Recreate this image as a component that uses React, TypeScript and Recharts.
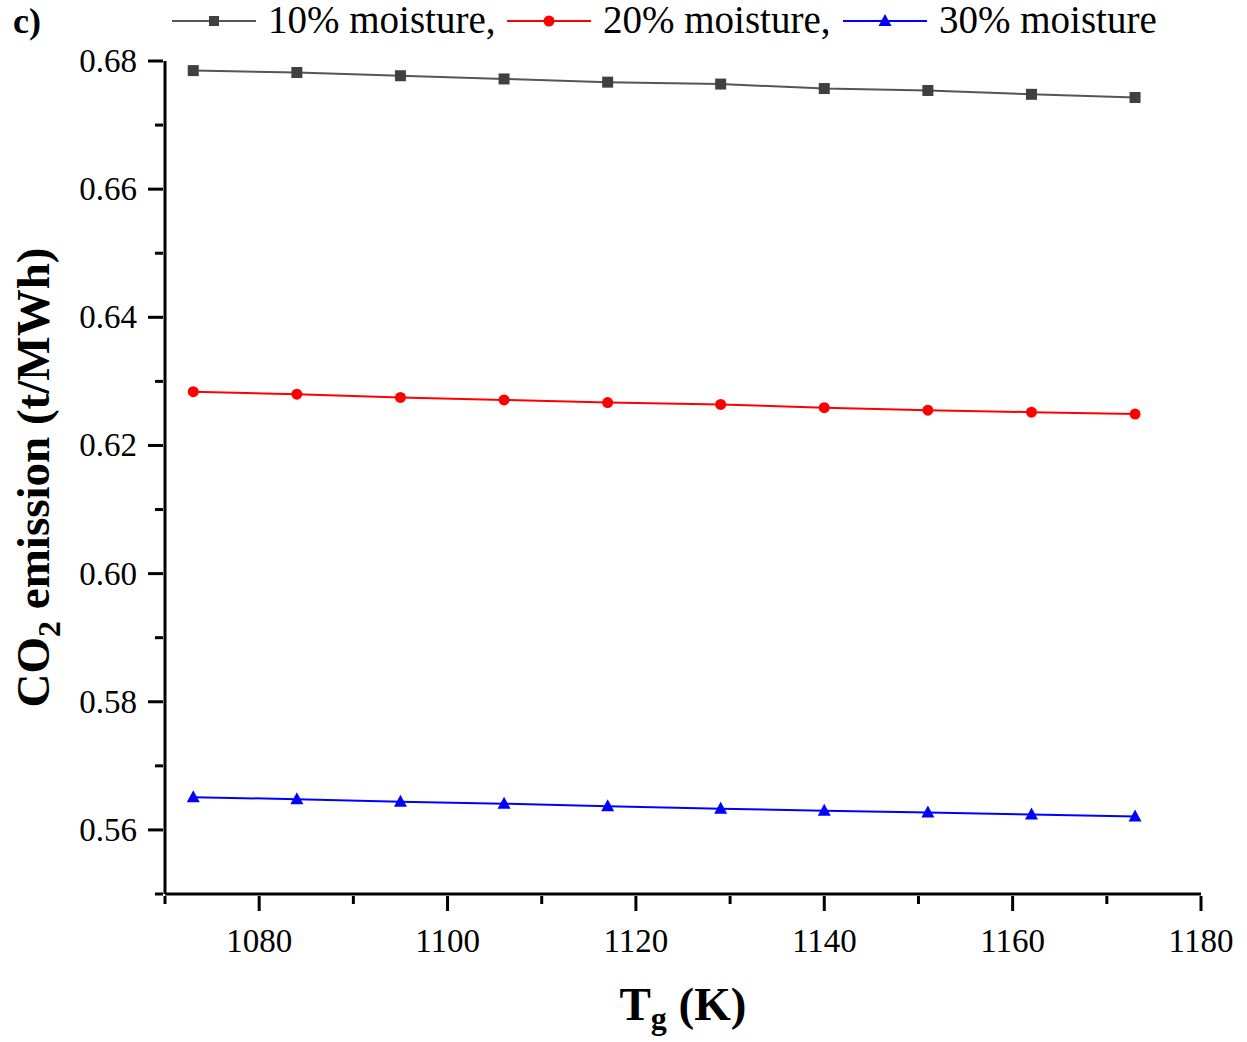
import React from "react";
import { LineChart, Line, XAxis, YAxis, Label } from "recharts";

const tgValues = [1073, 1084, 1095, 1106, 1117, 1129, 1140, 1151, 1162, 1173];
const moisture10 = [0.6785, 0.6782, 0.6777, 0.6772, 0.6767, 0.6764, 0.6757, 0.6754, 0.6748, 0.6743];
const moisture20 = [0.6284, 0.628, 0.6275, 0.6271, 0.6267, 0.6264, 0.6259, 0.6255, 0.6252, 0.6249];
const moisture30 = [0.5651, 0.5648, 0.5644, 0.5641, 0.5637, 0.5633, 0.563, 0.5627, 0.5624, 0.5621];
const xTicks = [1070, 1080, 1090, 1100, 1110, 1120, 1130, 1140, 1150, 1160, 1170, 1180];
const yTicks = [0.55, 0.56, 0.57, 0.58, 0.59, 0.6, 0.61, 0.62, 0.63, 0.64, 0.65, 0.66, 0.67, 0.68];
const seriesNames = ["10% moisture,", "20% moisture,", "30% moisture"];

const data = tgValues.map((tg, i) => ({
  tg,
  m10: moisture10[i],
  m20: moisture20[i],
  m30: moisture30[i],
}));

const FONT = "'Liberation Serif', 'Times New Roman', serif";
const GRAY = "#404040";
const RED = "#ff0000";
const BLUE = "#0000ff";

const XTick = (props: any) => {
  const { x, y, payload } = props;
  const v = payload.value;
  const major = v % 20 === 0;
  return (
    <g>
      <line x1={x} x2={x} y1={y} y2={y + (major ? 15 : 8)} stroke="#000" strokeWidth={3} />
      {major && (
        <text x={x} y={y + 56} textAnchor="middle" fontFamily={FONT} fontSize={33} fill="#000">
          {v}
        </text>
      )}
    </g>
  );
};

const YTick = (props: any) => {
  const { x, y, payload } = props;
  const v = payload.value;
  const major = Math.round(v * 100) % 2 === 0;
  return (
    <g>
      <line x1={x} x2={x - (major ? 15 : 8)} y1={y} y2={y} stroke="#000" strokeWidth={3} />
      {major && (
        <text x={x - 26} y={y + 11} textAnchor="end" fontFamily={FONT} fontSize={33} fill="#000">
          {v.toFixed(2)}
        </text>
      )}
    </g>
  );
};

const SquareDot = (props: any) => {
  const { cx, cy, index } = props;
  return <rect key={`s${index}`} x={cx - 5.5} y={cy - 5.5} width={11} height={11} fill={GRAY} />;
};
const CircleDot = (props: any) => {
  const { cx, cy, index } = props;
  return <circle key={`c${index}`} cx={cx} cy={cy} r={5.5} fill={RED} />;
};
const TriDot = (props: any) => {
  const { cx, cy, index } = props;
  return (
    <path key={`t${index}`} d={`M${cx},${cy - 7} L${cx + 6.5},${cy + 5} L${cx - 6.5},${cy + 5} Z`} fill={BLUE} />
  );
};

const XTitle = (props: any) => {
  const { viewBox } = props;
  const cx = viewBox.x + viewBox.width / 2;
  return (
    <text x={cx} y={1020} textAnchor="middle" fontFamily={FONT} fontSize={47} fontWeight="bold" fill="#000">
      T<tspan fontSize={32} dy={9}>g</tspan>
      <tspan dy={-9}> (K)</tspan>
    </text>
  );
};

const YTitle = (props: any) => {
  const { viewBox } = props;
  const cy = viewBox.y + viewBox.height / 2;
  const cx = 49;
  return (
    <text
      x={cx}
      y={cy}
      transform={`rotate(-90, ${cx}, ${cy})`}
      textAnchor="middle"
      fontFamily={FONT}
      fontSize={47}
      fontWeight="bold"
      fill="#000"
    >
      CO<tspan fontSize={32} dy={11}>2</tspan>
      <tspan dy={-11}> emission (t/MWh)</tspan>
    </text>
  );
};

const legendItems = [
  { name: seriesNames[0], color: GRAY, lineColor: "#555", marker: "square", x: 172 },
  { name: seriesNames[1], color: RED, lineColor: RED, marker: "circle", x: 507 },
  { name: seriesNames[2], color: BLUE, lineColor: BLUE, marker: "triangle", x: 843 },
];

const LegendOverlay = () => (
  <svg width={1247} height={60} style={{ position: "absolute", left: 0, top: 0, overflow: "visible" }}>
    <text x={13} y={33} fontFamily={FONT} fontSize={36} fontWeight="bold" fill="#000">
      c)
    </text>
    {legendItems.map((it) => {
      const mx = it.x + 42;
      const my = 21;
      return (
        <g key={it.name}>
          <line x1={it.x} x2={it.x + 84} y1={my} y2={my} stroke={it.lineColor} strokeWidth={2} />
          {it.marker === "square" && <rect x={mx - 5} y={my - 5} width={10} height={10} fill={it.color} />}
          {it.marker === "circle" && <circle cx={mx} cy={my} r={5.5} fill={it.color} />}
          {it.marker === "triangle" && (
            <path d={`M${mx},${my - 7} L${mx + 6.5},${my + 5} L${mx - 6.5},${my + 5} Z`} fill={it.color} />
          )}
          <text x={it.x + 96} y={my + 12} fontFamily={FONT} fontSize={39} fill="#000">
            {it.name}
          </text>
        </g>
      );
    })}
  </svg>
);

export default function App() {
  return (
    <div style={{ position: "absolute", left: 0, top: 0, width: 1247, height: 1042, background: "#fff" }}>
      <LineChart
        width={1247}
        height={1042}
        data={data}
        margin={{ top: 61, right: 46, bottom: 48, left: 0 }}
      >
        <XAxis
          type="number"
          dataKey="tg"
          domain={[1070, 1180]}
          ticks={xTicks}
          interval={0}
          allowDataOverflow
          height={100}
          tickSize={0}
          tickLine={false}
          axisLine={{ stroke: "#000", strokeWidth: 3 }}
          tick={<XTick />}
        >
          <Label content={<XTitle />} />
        </XAxis>
        <YAxis
          type="number"
          domain={[0.55, 0.68]}
          ticks={yTicks}
          interval={0}
          allowDataOverflow
          width={165}
          tickSize={0}
          tickLine={false}
          axisLine={{ stroke: "#000", strokeWidth: 3 }}
          tick={<YTick />}
        >
          <Label content={<YTitle />} />
        </YAxis>
        <Line
          type="linear"
          dataKey="m10"
          name={seriesNames[0]}
          stroke="#555"
          strokeWidth={2}
          dot={<SquareDot />}
          isAnimationActive={false}
        />
        <Line
          type="linear"
          dataKey="m20"
          name={seriesNames[1]}
          stroke={RED}
          strokeWidth={2}
          dot={<CircleDot />}
          isAnimationActive={false}
        />
        <Line
          type="linear"
          dataKey="m30"
          name={seriesNames[2]}
          stroke={BLUE}
          strokeWidth={2}
          dot={<TriDot />}
          isAnimationActive={false}
        />
      </LineChart>
      <LegendOverlay />
    </div>
  );
}
